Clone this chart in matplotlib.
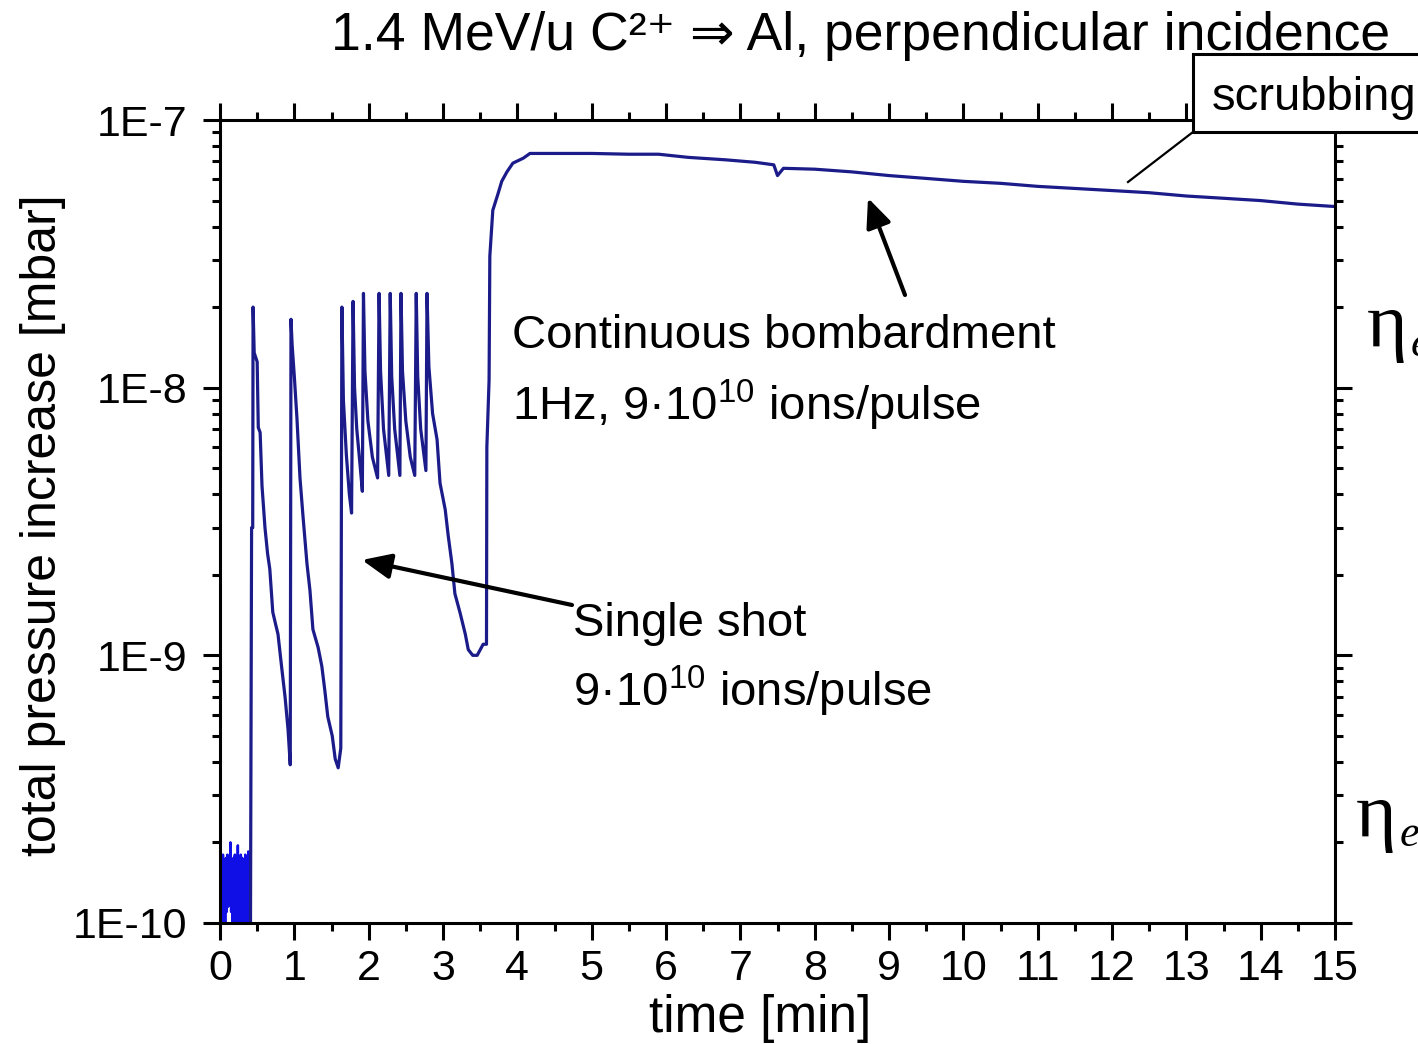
import matplotlib
matplotlib.use('Agg')
import matplotlib.pyplot as plt
from matplotlib.ticker import FixedLocator, LogLocator, FuncFormatter, MultipleLocator, NullFormatter
from matplotlib.patches import Rectangle
from matplotlib.lines import Line2D

# ---------------- data ----------------
noise_t = [0.00, 0.01, 0.02, 0.03, 0.04, 0.05, 0.06, 0.07, 0.08, 0.09, 0.10, 0.11, 0.12, 0.13,
           0.14, 0.15, 0.16, 0.17, 0.18, 0.19, 0.20, 0.21, 0.22, 0.23, 0.24, 0.25, 0.26, 0.27,
           0.28, 0.29, 0.30, 0.31, 0.32, 0.33, 0.34, 0.35, 0.36, 0.37, 0.38, 0.39, 0.40, 0.41]
noise_p = [1.7e-10, 0.95e-10, 1.75e-10, 0.97e-10, 1.8e-10, 0.96e-10, 1.7e-10, 0.95e-10, 1.75e-10,
           1.1e-10, 1.8e-10, 1.15e-10, 1.75e-10, 1.2e-10, 2.0e-10, 1.1e-10, 1.7e-10, 0.96e-10,
           1.75e-10, 0.95e-10, 1.8e-10, 0.97e-10, 1.75e-10, 0.95e-10, 1.95e-10, 0.96e-10, 1.7e-10,
           0.95e-10, 1.8e-10, 0.96e-10, 1.75e-10, 1.0e-10, 1.7e-10, 0.95e-10, 1.8e-10, 0.96e-10,
           1.75e-10, 0.95e-10, 1.85e-10, 0.96e-10, 1.7e-10, 0.95e-10]

trace_t = [0.41, 0.425, 0.44, 0.445, 0.46, 0.50, 0.515, 0.54, 0.565, 0.605, 0.64, 0.67, 0.71, 0.75,
           0.78, 0.83, 0.875, 0.915, 0.945,
           0.955, 0.97, 1.00, 1.035, 1.076, 1.117, 1.17, 1.21, 1.25, 1.32, 1.37, 1.41, 1.45, 1.51,
           1.55, 1.59, 1.625,
           1.64, 1.66, 1.70, 1.74, 1.77,
           1.79, 1.81, 1.84, 1.88, 1.915,
           1.93, 1.95, 1.99, 2.05, 2.12,
           2.14, 2.16, 2.20, 2.27,
           2.29, 2.31, 2.35, 2.42,
           2.435, 2.455, 2.50, 2.56, 2.62,
           2.64, 2.66, 2.70, 2.77,
           2.785, 2.81, 2.86, 2.92, 2.96, 3.03, 3.07, 3.12, 3.16, 3.23, 3.30, 3.34, 3.40, 3.46,
           3.54, 3.585, 3.59, 3.62, 3.63, 3.67, 3.74, 3.79, 3.86, 3.94, 4.08, 4.17,
           4.5, 5.0, 5.5, 5.9, 6.3, 6.8, 7.2, 7.45, 7.5, 7.58, 8.0, 8.5, 9.0, 9.5, 10.0, 10.5,
           11.0, 11.5, 12.0, 12.5, 13.0, 13.5, 14.0, 14.5, 15.0]
trace_p = [0.95e-10, 3.0e-9, 3.0e-9, 2.0e-8, 1.35e-8, 1.25e-8, 7.1e-9, 6.8e-9, 4.3e-9, 3.0e-9,
           2.4e-9, 2.1e-9, 1.45e-9, 1.3e-9, 1.2e-9, 9.0e-10, 7.0e-10, 5.3e-10, 3.9e-10,
           1.8e-8, 1.45e-8, 1.1e-8, 7.7e-9, 4.6e-9, 3.3e-9, 2.2e-9, 1.75e-9, 1.25e-9, 1.07e-9,
           9.1e-10, 7.4e-10, 5.9e-10, 5.0e-10, 4.1e-10, 3.8e-10, 4.5e-10,
           2.0e-8, 9.0e-9, 5.6e-9, 4.0e-9, 3.4e-9,
           2.1e-8, 1.0e-8, 7.0e-9, 5.3e-9, 4.1e-9,
           2.25e-8, 1.15e-8, 7.5e-9, 5.5e-9, 4.6e-9,
           2.25e-8, 1.15e-8, 7.0e-9, 4.7e-9,
           2.25e-8, 1.1e-8, 7.0e-9, 4.7e-9,
           2.25e-8, 1.15e-8, 7.5e-9, 5.5e-9, 4.7e-9,
           2.25e-8, 1.1e-8, 7.0e-9, 4.9e-9,
           2.25e-8, 1.2e-8, 8.0e-9, 6.4e-9, 4.4e-9, 3.5e-9, 2.8e-9, 2.2e-9, 1.7e-9, 1.44e-9,
           1.2e-9, 1.05e-9, 1.0e-9, 1.0e-9,
           1.1e-9, 1.1e-9, 6.0e-9, 1.07e-8, 3.1e-8, 4.6e-8, 5.3e-8, 5.9e-8, 6.4e-8, 6.9e-8,
           7.2e-8, 7.5e-8,
           7.5e-8, 7.5e-8, 7.45e-8, 7.45e-8, 7.25e-8, 7.1e-8, 6.95e-8, 6.8e-8, 6.2e-8, 6.6e-8,
           6.55e-8, 6.4e-8, 6.2e-8, 6.05e-8, 5.9e-8, 5.8e-8, 5.65e-8, 5.55e-8, 5.45e-8, 5.35e-8,
           5.2e-8, 5.1e-8, 5.0e-8, 4.85e-8, 4.75e-8]

x_ticks = list(range(0, 16))
y_ticks = [1e-10, 1e-9, 1e-8, 1e-7]
y_tick_labels = ['1E-10', '1E-9', '1E-8', '1E-7']

# ---------------- style ----------------
SANS = ['Liberation Sans', 'DejaVu Sans']
SERIF = ['Liberation Serif', 'DejaVu Serif']
plt.rcParams['font.family'] = SANS

W, H = 1418, 1044
fig = plt.figure(figsize=(W / 100, H / 100), dpi=100)
ax = fig.add_axes([220 / W, 1 - 923 / H, (1335 - 220) / W, (923 - 120) / H])

navy = '#1b1b8a'
ax.plot(noise_t, noise_p, color='#1010e6', lw=1.8)
ax.plot(trace_t, trace_p, color=navy, lw=2.3)

ax.set_yscale('log')
ax.set_xlim(0, 15)
ax.set_ylim(1e-10, 1e-7)

ax.xaxis.set_major_locator(FixedLocator(x_ticks))
ax.xaxis.set_minor_locator(MultipleLocator(0.5))
ax.yaxis.set_major_locator(FixedLocator(y_ticks))
ax.yaxis.set_major_formatter(FuncFormatter(
    lambda v, p: y_tick_labels[y_ticks.index(min(y_ticks, key=lambda t: abs(t - v)))]))
ax.yaxis.set_minor_locator(LogLocator(base=10, subs=[2, 3, 4, 5, 6, 7, 8, 9]))
ax.yaxis.set_minor_formatter(NullFormatter())

for s in ax.spines.values():
    s.set_linewidth(2.2)
ax.tick_params(which='both', direction='out', top=True, right=True, width=2.2, colors='black')
ax.tick_params(which='major', length=12.5)
ax.tick_params(which='minor', length=6)
ax.tick_params(axis='y', which='major', pad=11)
ax.tick_params(axis='x', which='major', pad=6)
for lab in ax.get_xticklabels() + ax.get_yticklabels():
    lab.set_fontsize(31)

ax.set_xlabel('time [min]', fontsize=37)
ax.xaxis.label.set_va('baseline')
ax.xaxis.set_label_coords((760 - 220) / 1115, (923 - 1032) / 803)
ax.set_ylabel('total pressure increase [mbar]', fontsize=36)
ax.yaxis.label.set_va('baseline')
ax.yaxis.set_label_coords((56 - 220) / 1115, (923 - 525) / 803)

# title
fig.text(861 / W, 1 - 50 / H, '1.4 MeV/u C²⁺ ⇒ Al, perpendicular incidence',
         ha='center', va='baseline', fontsize=38.5, family=SANS)

# annotations
def px2data(px, py):
    x = (px - 220) / 1115 * 15
    y = 10 ** (-7 - (py - 120) / 267.67)
    return x, y

ax.text(*px2data(512, 348), 'Continuous bombardment', fontsize=34, va='baseline', ha='left')
ax.text(*px2data(512, 420), r'1Hz, 9·10$^{\mathregular{10}}$ ions/pulse', fontsize=34,
        va='baseline', ha='left')
ax.text(*px2data(573, 636), 'Single shot', fontsize=34, va='baseline', ha='left')
ax.text(*px2data(573, 706), r'9·10$^{\mathregular{10}}$ ions/pulse', fontsize=34,
        va='baseline', ha='left')

arrow_kw = dict(arrowstyle='-|>,head_length=0.8,head_width=0.35', lw=3, color='black',
                mutation_scale=22, shrinkA=0, shrinkB=0)
ax.annotate('', xy=px2data(868, 198), xytext=px2data(905, 295), arrowprops=arrow_kw)
ax.annotate('', xy=px2data(362, 560), xytext=px2data(572, 605), arrowprops=arrow_kw)

# scrubbing callout (box runs off the right edge, as in the original)
fig.add_artist(Rectangle((1193 / W, 1 - 132 / H), 260 / W, 78 / H, transform=fig.transFigure,
                         facecolor='white', edgecolor='black', lw=2.2, zorder=5))
fig.add_artist(Line2D([1128 / W, 1193 / W], [1 - 182 / H, 1 - 132 / H], transform=fig.transFigure,
                      color='black', lw=1.6, zorder=5))
fig.text(1212 / W, 1 - 110 / H, 'scrubbing', fontsize=34, va='baseline', ha='left', zorder=6)

# eta symbols on the right (cut by the figure edge, as in the original)
fig.text(1367 / W, 1 - 346 / H, 'η', family=SERIF, fontsize=56, va='baseline', ha='left')
fig.text(1411 / W, 1 - 356 / H, 'eff', family=SERIF, style='italic', fontsize=32,
         va='baseline', ha='left')
fig.text(1356 / W, 1 - 836 / H, 'η', family=SERIF, fontsize=56, va='baseline', ha='left')
fig.text(1400 / W, 1 - 846 / H, 'eff', family=SERIF, style='italic', fontsize=32,
         va='baseline', ha='left')

fig.savefig('out.png', dpi=100, facecolor='white')
